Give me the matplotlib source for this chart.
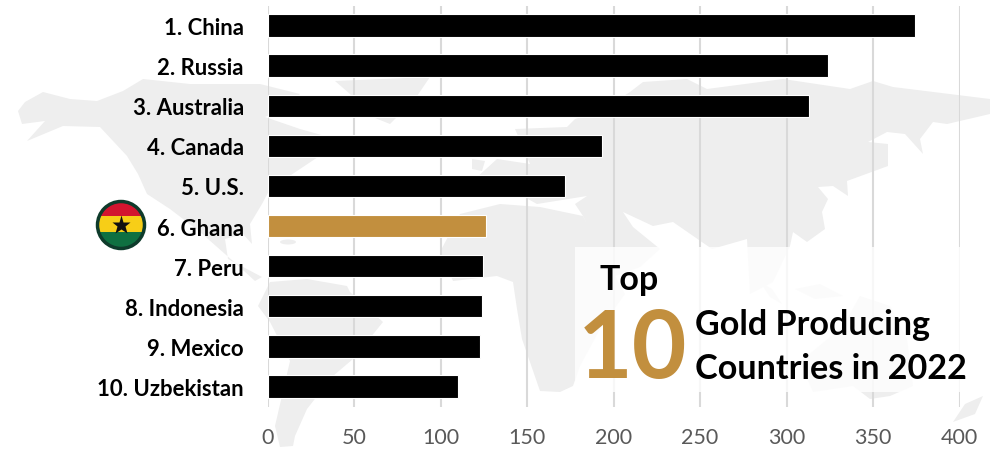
import matplotlib
matplotlib.use("Agg")
import matplotlib.pyplot as plt
from matplotlib.patches import Circle, Ellipse, Polygon, Rectangle

# chart data
countries = ["1. China", "2. Russia", "3. Australia", "4. Canada", "5. U.S.",
             "6. Ghana", "7. Peru", "8. Indonesia", "9. Mexico", "10. Uzbekistan"]
tonnes = [374, 324, 313, 193.5, 172, 126.5, 124.8, 124, 123, 110]
x_ticks = [0, 50, 100, 150, 200, 250, 300, 350, 400]

BLACK = "#000000"
GOLD = "#C28F3E"
MAP_GREY = "#EEEEEE"

# rough outlines of the backdrop map, in image pixels
north_america = [(18,112),(25,103),(43,93),(70,100),(97,102),(123,92),(143,80),(190,85),(260,85),
                 (300,95),(285,110),(265,118),(300,130),(325,137),(330,150),(300,170),(270,190),
                 (262,205),(250,225),(252,245),(243,235),(225,240),(228,260),(262,278),(255,282),
                 (233,262),(200,233),(170,210),(147,195),(138,175),(127,157),(100,128),(63,127),
                 (27,142),(45,122),(22,125)]
south_america = [(270,283),(307,280),(347,287),(350,293),(383,323),(353,360),(333,377),(307,410),
                 (295,437),(293,447),(280,448),(275,427),(290,362),(270,323),(258,307)]
greenland = [(335,82),(430,78),(415,100),(390,125),(365,115),(350,95)]
eurasia = [(630,93),(643,83),(687,80),(707,90),(783,80),(850,90),(873,82),(893,88),(990,100),
           (990,115),(947,125),(933,123),(920,140),(923,155),(905,135),(887,133),(868,143),
           (888,145),(888,167),(847,182),(848,197),(833,187),(818,188),(828,200),(822,213),
           (825,230),(807,243),(793,233),(790,247),(773,283),(750,295),(747,240),(712,250),
           (673,223),(653,227),(623,213),(633,228),(660,250),(640,268),(612,278),(583,217),
           (575,205),(587,197),(537,205),(510,190),(475,180),(497,160),(530,165),(515,130),
           (567,128),(575,120),(600,112)]
africa = [(440,253),(460,215),(500,205),(540,208),(583,217),(607,262),(625,295),(600,330),
          (580,367),(573,387),(560,393),(540,392),(522,340),(517,310),(513,283),(497,277),(453,282)]
australia = [(860,297),(890,307),(907,340),(913,387),(890,397),(870,400),(853,387),(813,393),
             (800,363),(843,327)]
new_zealand = [(983,397),(975,415),(953,423),(965,405)]
sumatra = [(760,283),(772,290),(782,305),(770,298)]
borneo = [(795,290),(820,285),(843,297),(815,300)]
iceland = [(472,160),(485,162),(482,172),(472,170)]
map_shapes = [north_america, south_america, greenland, eurasia, africa, australia,
              new_zealand, sumatra, borneo, iceland]


def px(points):
    # flip y so the polygons can be typed
    return [(x, 452 - y) for x, y in points]


plt.rcParams["font.family"] = ["Lato", "DejaVu Sans"]
fig = plt.figure(figsize=(10.01, 4.52), dpi=100)

# full figure axes in pixels for the map, flag and text panel
bg = fig.add_axes([0, 0, 1, 1], zorder=0)
bg.set_xlim(0, 1001)
bg.set_ylim(0, 452)
bg.axis("off")
for shape in map_shapes:
    bg.add_patch(Polygon(px(shape), closed=True, facecolor=MAP_GREY, edgecolor="none"))
bg.add_patch(Ellipse((288, 452 - 243), 16, 5, facecolor=MAP_GREY, edgecolor="none"))

ax = fig.add_axes([267.5 / 1001, 44.5 / 452, 692 / 1001, 401 / 452], zorder=1)
ax.patch.set_alpha(0)
y_pos = list(range(len(countries)))
colors = [GOLD if name == "6. Ghana" else BLACK for name in countries]
ax.barh(y_pos, tonnes, height=0.56, color=colors, edgecolor="white", linewidth=0.8, zorder=3)
ax.set_xlim(0, 400)
ax.set_ylim(9.5, -0.5)
ax.set_xticks(x_ticks)
ax.set_yticks(y_pos)
ax.set_yticklabels(countries, fontsize=15.9, fontweight="bold", color=BLACK)
ax.tick_params(axis="y", length=0, pad=17)
ax.tick_params(axis="x", length=0, pad=15, labelsize=15.5, labelcolor="#595959")
ax.grid(True, axis="x", color="#D9D9D9", linewidth=1.5, zorder=1)
for side in ax.spines.values():
    side.set_visible(False)

# overlay for title block and flag
top = fig.add_axes([0, 0, 1, 1], zorder=2)
top.set_xlim(0, 1001)
top.set_ylim(0, 452)
top.axis("off")
top.add_patch(Rectangle((575, 452 - 393), 394, 145, facecolor="white", alpha=0.8, edgecolor="none"))
top.text(600, 452 - 280, "Top", fontsize=24.5, fontweight="bold", color=BLACK, va="center", ha="left")
top.text(578, 452 - 378, "10", fontsize=68, fontweight="bold", color=GOLD, va="baseline", ha="left")
top.text(695, 452 - 325, "Gold Producing", fontsize=24.6, fontweight="bold", color=BLACK, va="center", ha="left")
top.text(695, 452 - 369, "Countries in 2022", fontsize=24.6, fontweight="bold", color=BLACK, va="center", ha="left")

# Ghana flag badge
fx, fy = 121, 452 - 226
clip = Circle((fx, fy), 23, transform=top.transData)
for bottom, height, col in [(fy + 9, 16, "#D2152F"), (fy - 7, 16, "#F7CE17"), (fy - 25, 18, "#0F7041")]:
    band = Rectangle((fx - 25, bottom), 50, height, facecolor=col, edgecolor="none")
    top.add_patch(band)
    band.set_clip_path(clip)
top.add_patch(Circle((fx, fy), 23.5, facecolor="none", edgecolor="#0E3B2B", linewidth=2.5))
top.plot([fx], [fy], marker="*", markersize=14, color="#111111", markeredgecolor="none")

fig.savefig("out.png", dpi=100)
